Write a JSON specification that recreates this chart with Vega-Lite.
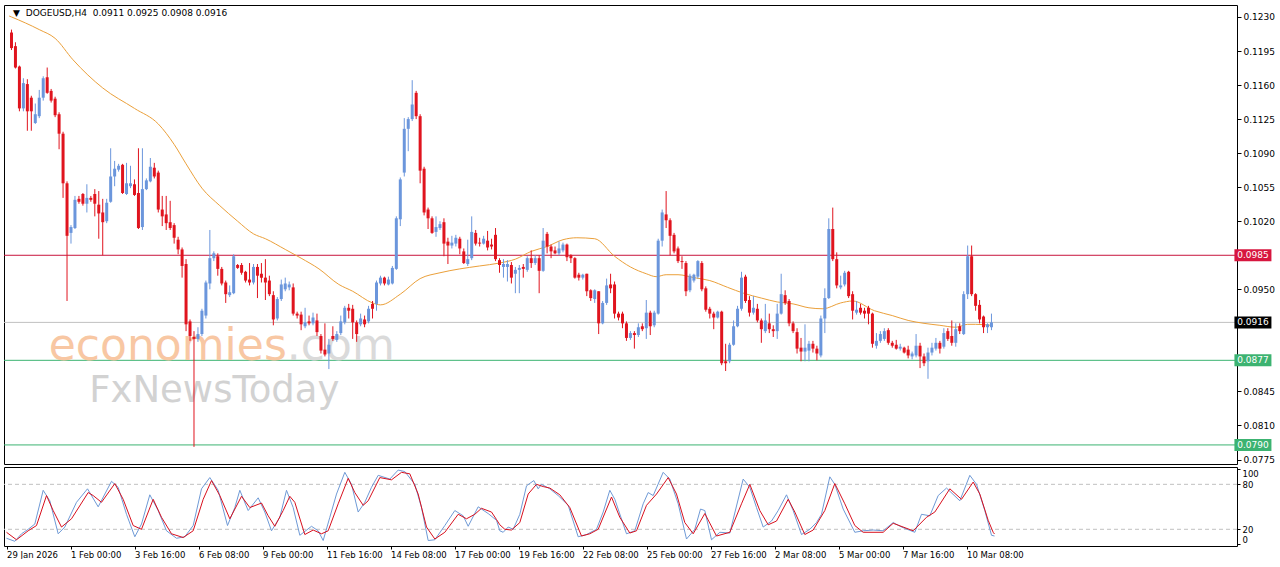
{
"$schema":"https://vega.github.io/schema/vega-lite/v6.json",
"padding":{"left":3,"top":4,"right":0,"bottom":0},
"background":"#ffffff",
"spacing":3,
"bounds":"flush",
"config":{"view":{"stroke":"#000000","strokeWidth":1},"font":"DejaVu Sans","axis":{"labelFont":"DejaVu Sans","labelColor":"#000000","tickColor":"#000000","grid":false,"domain":false,"title":null,"labelOverlap":false,"labelBound":false}},
"datasets":{
"candles":[
{"i":0,"o":0.1214,"h":0.1217,"l":0.1196,"c":0.1198},{"i":1,"o":0.1200,"h":0.1204,"l":0.1177,"c":0.1178},{"i":2,"o":0.1179,"h":0.1180,"l":0.1133,"c":0.1136},{"i":3,"o":0.1136,"h":0.1167,"l":0.1133,"c":0.1162},{"i":4,"o":0.1161,"h":0.1166,"l":0.1113,"c":0.1133},{"i":5,"o":0.1147,"h":0.1149,"l":0.1113,"c":0.1133},{"i":6,"o":0.1121,"h":0.1141,"l":0.1120,"c":0.1130},{"i":7,"o":0.1128,"h":0.1155,"l":0.1126,"c":0.1147},{"i":8,"o":0.1147,"h":0.1169,"l":0.1144,"c":0.1167},{"i":9,"o":0.1168,"h":0.1178,"l":0.1151,"c":0.1152},
{"i":10,"o":0.1154,"h":0.1156,"l":0.1142,"c":0.1144},{"i":11,"o":0.1146,"h":0.1148,"l":0.1127,"c":0.1129},{"i":12,"o":0.1130,"h":0.1132,"l":0.1094,"c":0.1110},{"i":13,"o":0.1110,"h":0.1112,"l":0.1044,"c":0.1059},{"i":14,"o":0.1059,"h":0.1061,"l":0.0938,"c":0.1005},{"i":15,"o":0.1008,"h":0.1016,"l":0.0997,"c":0.1014},{"i":16,"o":0.1013,"h":0.1046,"l":0.1012,"c":0.1042},{"i":17,"o":0.1043,"h":0.1046,"l":0.1038,"c":0.1040},{"i":18,"o":0.1048,"h":0.1049,"l":0.1036,"c":0.1038},{"i":19,"o":0.1038,"h":0.1058,"l":0.1029,"c":0.1044},
{"i":20,"o":0.1044,"h":0.1046,"l":0.1040,"c":0.1042},{"i":21,"o":0.1048,"h":0.1053,"l":0.1025,"c":0.1038},{"i":22,"o":0.1037,"h":0.1051,"l":0.1002,"c":0.1028},{"i":23,"o":0.1029,"h":0.1043,"l":0.0985,"c":0.1019},{"i":24,"o":0.1020,"h":0.1043,"l":0.1018,"c":0.1039},{"i":25,"o":0.1040,"h":0.1095,"l":0.1039,"c":0.1066},{"i":26,"o":0.1066,"h":0.1082,"l":0.1056,"c":0.1074},{"i":27,"o":0.1073,"h":0.1079,"l":0.1071,"c":0.1077},{"i":28,"o":0.1078,"h":0.1079,"l":0.1048,"c":0.1049},{"i":29,"o":0.1048,"h":0.1080,"l":0.1047,"c":0.1059},
{"i":30,"o":0.1056,"h":0.1077,"l":0.1054,"c":0.1059},{"i":31,"o":0.1058,"h":0.1063,"l":0.1046,"c":0.1047},{"i":32,"o":0.1049,"h":0.1095,"l":0.1012,"c":0.1013},{"i":33,"o":0.1014,"h":0.1095,"l":0.1011,"c":0.1053},{"i":34,"o":0.1053,"h":0.1064,"l":0.1052,"c":0.1062},{"i":35,"o":0.1061,"h":0.1085,"l":0.1060,"c":0.1076},{"i":36,"o":0.1075,"h":0.1080,"l":0.1064,"c":0.1066},{"i":37,"o":0.1070,"h":0.1072,"l":0.1029,"c":0.1032},{"i":38,"o":0.1032,"h":0.1046,"l":0.1015,"c":0.1025},{"i":39,"o":0.1027,"h":0.1046,"l":0.1011,"c":0.1018},
{"i":40,"o":0.1019,"h":0.1041,"l":0.1011,"c":0.1013},{"i":41,"o":0.1016,"h":0.1018,"l":0.0997,"c":0.1003},{"i":42,"o":0.1001,"h":0.1004,"l":0.0986,"c":0.0991},{"i":43,"o":0.0991,"h":0.0993,"l":0.0962,"c":0.0974},{"i":44,"o":0.0976,"h":0.0981,"l":0.0907,"c":0.0914},{"i":45,"o":0.0917,"h":0.0919,"l":0.0897,"c":0.0902},{"i":46,"o":0.0901,"h":0.0907,"l":0.0788,"c":0.0899},{"i":47,"o":0.0899,"h":0.0911,"l":0.0896,"c":0.0904},{"i":48,"o":0.0904,"h":0.0930,"l":0.0902,"c":0.0928},{"i":49,"o":0.0923,"h":0.0959,"l":0.0920,"c":0.0957},
{"i":50,"o":0.0956,"h":0.1011,"l":0.0950,"c":0.0982},{"i":51,"o":0.0982,"h":0.0989,"l":0.0979,"c":0.0987},{"i":52,"o":0.0984,"h":0.0987,"l":0.0964,"c":0.0971},{"i":53,"o":0.0971,"h":0.0973,"l":0.0954,"c":0.0956},{"i":54,"o":0.0957,"h":0.0959,"l":0.0936,"c":0.0945},{"i":55,"o":0.0944,"h":0.0954,"l":0.0942,"c":0.0947},{"i":56,"o":0.0946,"h":0.0986,"l":0.0945,"c":0.0984},{"i":57,"o":0.0975,"h":0.0976,"l":0.0971,"c":0.0972},{"i":58,"o":0.0975,"h":0.0977,"l":0.0965,"c":0.0967},{"i":59,"o":0.0968,"h":0.0969,"l":0.0957,"c":0.0959},
{"i":60,"o":0.0960,"h":0.0977,"l":0.0954,"c":0.0957},{"i":61,"o":0.0957,"h":0.0976,"l":0.0955,"c":0.0973},{"i":62,"o":0.0973,"h":0.0976,"l":0.0941,"c":0.0964},{"i":63,"o":0.0966,"h":0.0977,"l":0.0957,"c":0.0962},{"i":64,"o":0.0962,"h":0.0981,"l":0.0939,"c":0.0957},{"i":65,"o":0.0959,"h":0.0964,"l":0.0943,"c":0.0945},{"i":66,"o":0.0944,"h":0.0948,"l":0.0913,"c":0.0919},{"i":67,"o":0.0920,"h":0.0942,"l":0.0918,"c":0.0940},{"i":68,"o":0.0940,"h":0.0960,"l":0.0938,"c":0.0955},{"i":69,"o":0.0950,"h":0.0962,"l":0.0948,"c":0.0956},
{"i":70,"o":0.0952,"h":0.0958,"l":0.0949,"c":0.0955},{"i":71,"o":0.0952,"h":0.0956,"l":0.0923,"c":0.0925},{"i":72,"o":0.0925,"h":0.0927,"l":0.0920,"c":0.0923},{"i":73,"o":0.0924,"h":0.0927,"l":0.0908,"c":0.0914},{"i":74,"o":0.0912,"h":0.0931,"l":0.0910,"c":0.0916},{"i":75,"o":0.0917,"h":0.0923,"l":0.0913,"c":0.0915},{"i":76,"o":0.0915,"h":0.0926,"l":0.0913,"c":0.0921},{"i":77,"o":0.0918,"h":0.0925,"l":0.0902,"c":0.0906},{"i":78,"o":0.0902,"h":0.0904,"l":0.0884,"c":0.0887},{"i":79,"o":0.0888,"h":0.0915,"l":0.0881,"c":0.0883},
{"i":80,"o":0.0884,"h":0.0899,"l":0.0868,"c":0.0893},{"i":81,"o":0.0902,"h":0.0912,"l":0.0897,"c":0.0899},{"i":82,"o":0.0898,"h":0.0907,"l":0.0896,"c":0.0904},{"i":83,"o":0.0905,"h":0.0923,"l":0.0903,"c":0.0917},{"i":84,"o":0.0916,"h":0.0933,"l":0.0914,"c":0.0931},{"i":85,"o":0.0931,"h":0.0935,"l":0.0920,"c":0.0928},{"i":86,"o":0.0930,"h":0.0934,"l":0.0899,"c":0.0916},{"i":87,"o":0.0916,"h":0.0918,"l":0.0896,"c":0.0904},{"i":88,"o":0.0914,"h":0.0925,"l":0.0912,"c":0.0920},{"i":89,"o":0.0919,"h":0.0923,"l":0.0911,"c":0.0914},
{"i":90,"o":0.0917,"h":0.0933,"l":0.0915,"c":0.0930},{"i":91,"o":0.0935,"h":0.0938,"l":0.0920,"c":0.0930},{"i":92,"o":0.0935,"h":0.0959,"l":0.0928,"c":0.0957},{"i":93,"o":0.0956,"h":0.0964,"l":0.0954,"c":0.0962},{"i":94,"o":0.0962,"h":0.0963,"l":0.0954,"c":0.0956},{"i":95,"o":0.0955,"h":0.0963,"l":0.0954,"c":0.0960},{"i":96,"o":0.0956,"h":0.0974,"l":0.0955,"c":0.0972},{"i":97,"o":0.0971,"h":0.1025,"l":0.0970,"c":0.1023},{"i":98,"o":0.1022,"h":0.1065,"l":0.1015,"c":0.1063},{"i":99,"o":0.1070,"h":0.1126,"l":0.1066,"c":0.1115},
{"i":100,"o":0.1115,"h":0.1127,"l":0.1092,"c":0.1125},{"i":101,"o":0.1125,"h":0.1165,"l":0.1123,"c":0.1140},{"i":102,"o":0.1152,"h":0.1154,"l":0.1125,"c":0.1128},{"i":103,"o":0.1128,"h":0.1130,"l":0.1059,"c":0.1072},{"i":104,"o":0.1074,"h":0.1076,"l":0.1026,"c":0.1029},{"i":105,"o":0.1032,"h":0.1034,"l":0.1012,"c":0.1023},{"i":106,"o":0.1023,"h":0.1025,"l":0.1007,"c":0.1008},{"i":107,"o":0.1009,"h":0.1025,"l":0.1004,"c":0.1014},{"i":108,"o":0.1013,"h":0.1020,"l":0.1011,"c":0.1017},{"i":109,"o":0.1019,"h":0.1023,"l":0.0984,"c":0.0997},
{"i":110,"o":0.0999,"h":0.1003,"l":0.0976,"c":0.0995},{"i":111,"o":0.0995,"h":0.1005,"l":0.0992,"c":0.0998},{"i":112,"o":0.0997,"h":0.1006,"l":0.0994,"c":0.1003},{"i":113,"o":0.1002,"h":0.1004,"l":0.0986,"c":0.0992},{"i":114,"o":0.0989,"h":0.0992,"l":0.0976,"c":0.0977},{"i":115,"o":0.0976,"h":0.1001,"l":0.0974,"c":0.0981},{"i":116,"o":0.0982,"h":0.1025,"l":0.0980,"c":0.1009},{"i":117,"o":0.1008,"h":0.1011,"l":0.0995,"c":0.0997},{"i":118,"o":0.0998,"h":0.1003,"l":0.0994,"c":0.0997},{"i":119,"o":0.0997,"h":0.1005,"l":0.0996,"c":0.1002},
{"i":120,"o":0.1000,"h":0.1010,"l":0.0990,"c":0.0993},{"i":121,"o":0.0996,"h":0.1002,"l":0.0991,"c":0.0994},{"i":122,"o":0.1006,"h":0.1013,"l":0.0979,"c":0.0981},{"i":123,"o":0.0980,"h":0.0982,"l":0.0967,"c":0.0975},{"i":124,"o":0.0973,"h":0.0981,"l":0.0962,"c":0.0976},{"i":125,"o":0.0973,"h":0.0980,"l":0.0958,"c":0.0976},{"i":126,"o":0.0975,"h":0.0978,"l":0.0956,"c":0.0962},{"i":127,"o":0.0966,"h":0.0973,"l":0.0946,"c":0.0970},{"i":128,"o":0.0970,"h":0.0975,"l":0.0946,"c":0.0972},{"i":129,"o":0.0973,"h":0.0976,"l":0.0962,"c":0.0971},
{"i":130,"o":0.0970,"h":0.0984,"l":0.0968,"c":0.0982},{"i":131,"o":0.0982,"h":0.0990,"l":0.0972,"c":0.0977},{"i":132,"o":0.0977,"h":0.0985,"l":0.0975,"c":0.0982},{"i":133,"o":0.0982,"h":0.0985,"l":0.0946,"c":0.0969},{"i":134,"o":0.0969,"h":0.1013,"l":0.0968,"c":0.1000},{"i":135,"o":0.1007,"h":0.1009,"l":0.0987,"c":0.0994},{"i":136,"o":0.0994,"h":0.0996,"l":0.0982,"c":0.0989},{"i":137,"o":0.0990,"h":0.0994,"l":0.0986,"c":0.0987},{"i":138,"o":0.0987,"h":0.0999,"l":0.0985,"c":0.0992},{"i":139,"o":0.0990,"h":0.0998,"l":0.0988,"c":0.0996},
{"i":140,"o":0.0996,"h":0.0997,"l":0.0979,"c":0.0983},{"i":141,"o":0.0985,"h":0.0986,"l":0.0977,"c":0.0982},{"i":142,"o":0.0982,"h":0.0983,"l":0.0961,"c":0.0962},{"i":143,"o":0.0965,"h":0.0967,"l":0.0959,"c":0.0962},{"i":144,"o":0.0962,"h":0.0966,"l":0.0960,"c":0.0965},{"i":145,"o":0.0966,"h":0.0966,"l":0.0943,"c":0.0948},{"i":146,"o":0.0949,"h":0.0950,"l":0.0938,"c":0.0941},{"i":147,"o":0.0940,"h":0.0950,"l":0.0936,"c":0.0949},{"i":148,"o":0.0948,"h":0.0948,"l":0.0904,"c":0.0915},{"i":149,"o":0.0915,"h":0.0938,"l":0.0914,"c":0.0936},
{"i":150,"o":0.0936,"h":0.0961,"l":0.0934,"c":0.0954},{"i":151,"o":0.0955,"h":0.0966,"l":0.0946,"c":0.0951},{"i":152,"o":0.0955,"h":0.0958,"l":0.0920,"c":0.0925},{"i":153,"o":0.0925,"h":0.0927,"l":0.0918,"c":0.0921},{"i":154,"o":0.0925,"h":0.0927,"l":0.0910,"c":0.0915},{"i":155,"o":0.0915,"h":0.0917,"l":0.0897,"c":0.0900},{"i":156,"o":0.0900,"h":0.0907,"l":0.0898,"c":0.0905},{"i":157,"o":0.0905,"h":0.0907,"l":0.0889,"c":0.0903},{"i":158,"o":0.0903,"h":0.0915,"l":0.0901,"c":0.0911},{"i":159,"o":0.0912,"h":0.0915,"l":0.0907,"c":0.0909},
{"i":160,"o":0.0910,"h":0.0939,"l":0.0899,"c":0.0926},{"i":161,"o":0.0926,"h":0.0928,"l":0.0903,"c":0.0912},{"i":162,"o":0.0913,"h":0.0928,"l":0.0911,"c":0.0926},{"i":163,"o":0.0925,"h":0.1002,"l":0.0924,"c":0.1000},{"i":164,"o":0.1000,"h":0.1032,"l":0.0994,"c":0.1029},{"i":165,"o":0.1027,"h":0.1051,"l":0.1013,"c":0.1021},{"i":166,"o":0.1021,"h":0.1023,"l":0.0985,"c":0.1005},{"i":167,"o":0.1006,"h":0.1008,"l":0.0987,"c":0.0989},{"i":168,"o":0.0992,"h":0.0994,"l":0.0977,"c":0.0979},{"i":169,"o":0.0979,"h":0.0984,"l":0.0971,"c":0.0978},
{"i":170,"o":0.0977,"h":0.0979,"l":0.0943,"c":0.0948},{"i":171,"o":0.0949,"h":0.0966,"l":0.0947,"c":0.0964},{"i":172,"o":0.0959,"h":0.0966,"l":0.0957,"c":0.0965},{"i":173,"o":0.0963,"h":0.0980,"l":0.0961,"c":0.0979},{"i":174,"o":0.0977,"h":0.0979,"l":0.0948,"c":0.0950},{"i":175,"o":0.0951,"h":0.0953,"l":0.0927,"c":0.0929},{"i":176,"o":0.0930,"h":0.0932,"l":0.0920,"c":0.0925},{"i":177,"o":0.0925,"h":0.0927,"l":0.0909,"c":0.0921},{"i":178,"o":0.0921,"h":0.0928,"l":0.0920,"c":0.0927},{"i":179,"o":0.0927,"h":0.0928,"l":0.0872,"c":0.0874},
{"i":180,"o":0.0876,"h":0.0894,"l":0.0866,"c":0.0874},{"i":181,"o":0.0876,"h":0.0895,"l":0.0874,"c":0.0893},{"i":182,"o":0.0893,"h":0.0918,"l":0.0892,"c":0.0912},{"i":183,"o":0.0912,"h":0.0933,"l":0.0911,"c":0.0930},{"i":184,"o":0.0930,"h":0.0968,"l":0.0928,"c":0.0962},{"i":185,"o":0.0963,"h":0.0965,"l":0.0936,"c":0.0938},{"i":186,"o":0.0939,"h":0.0943,"l":0.0922,"c":0.0926},{"i":187,"o":0.0926,"h":0.0943,"l":0.0924,"c":0.0931},{"i":188,"o":0.0930,"h":0.0935,"l":0.0916,"c":0.0918},{"i":189,"o":0.0918,"h":0.0920,"l":0.0895,"c":0.0909},
{"i":190,"o":0.0907,"h":0.0935,"l":0.0905,"c":0.0918},{"i":191,"o":0.0915,"h":0.0925,"l":0.0905,"c":0.0909},{"i":192,"o":0.0909,"h":0.0913,"l":0.0901,"c":0.0907},{"i":193,"o":0.0907,"h":0.0935,"l":0.0899,"c":0.0925},{"i":194,"o":0.0925,"h":0.0966,"l":0.0924,"c":0.0945},{"i":195,"o":0.0944,"h":0.0949,"l":0.0934,"c":0.0936},{"i":196,"o":0.0938,"h":0.0940,"l":0.0912,"c":0.0915},{"i":197,"o":0.0915,"h":0.0917,"l":0.0905,"c":0.0907},{"i":198,"o":0.0906,"h":0.0910,"l":0.0884,"c":0.0889},{"i":199,"o":0.0890,"h":0.0900,"l":0.0876,"c":0.0886},
{"i":200,"o":0.0886,"h":0.0914,"l":0.0876,"c":0.0890},{"i":201,"o":0.0887,"h":0.0897,"l":0.0876,"c":0.0894},{"i":202,"o":0.0894,"h":0.0897,"l":0.0885,"c":0.0889},{"i":203,"o":0.0889,"h":0.0892,"l":0.0877,"c":0.0884},{"i":204,"o":0.0882,"h":0.0923,"l":0.0880,"c":0.0920},{"i":205,"o":0.0920,"h":0.0951,"l":0.0905,"c":0.0941},{"i":206,"o":0.0941,"h":0.1023,"l":0.0940,"c":0.1012},{"i":207,"o":0.1012,"h":0.1034,"l":0.0979,"c":0.0981},{"i":208,"o":0.0981,"h":0.0988,"l":0.0951,"c":0.0954},{"i":209,"o":0.0952,"h":0.0964,"l":0.0950,"c":0.0954},
{"i":210,"o":0.0955,"h":0.0969,"l":0.0953,"c":0.0967},{"i":211,"o":0.0968,"h":0.0969,"l":0.0941,"c":0.0943},{"i":212,"o":0.0945,"h":0.0948,"l":0.0919,"c":0.0928},{"i":213,"o":0.0926,"h":0.0938,"l":0.0924,"c":0.0929},{"i":214,"o":0.0931,"h":0.0935,"l":0.0924,"c":0.0926},{"i":215,"o":0.0928,"h":0.0931,"l":0.0920,"c":0.0925},{"i":216,"o":0.0931,"h":0.0933,"l":0.0914,"c":0.0925},{"i":217,"o":0.0925,"h":0.0926,"l":0.0890,"c":0.0894},{"i":218,"o":0.0892,"h":0.0905,"l":0.0889,"c":0.0897},{"i":219,"o":0.0897,"h":0.0907,"l":0.0895,"c":0.0904},
{"i":220,"o":0.0899,"h":0.0910,"l":0.0897,"c":0.0907},{"i":221,"o":0.0908,"h":0.0910,"l":0.0893,"c":0.0895},{"i":222,"o":0.0895,"h":0.0897,"l":0.0890,"c":0.0892},{"i":223,"o":0.0893,"h":0.0898,"l":0.0888,"c":0.0889},{"i":224,"o":0.0889,"h":0.0894,"l":0.0887,"c":0.0891},{"i":225,"o":0.0890,"h":0.0891,"l":0.0884,"c":0.0885},{"i":226,"o":0.0888,"h":0.0892,"l":0.0879,"c":0.0882},{"i":227,"o":0.0881,"h":0.0886,"l":0.0878,"c":0.0884},{"i":228,"o":0.0882,"h":0.0904,"l":0.0880,"c":0.0892},{"i":229,"o":0.0892,"h":0.0895,"l":0.0869,"c":0.0881},
{"i":230,"o":0.0881,"h":0.0884,"l":0.0871,"c":0.0874},{"i":231,"o":0.0876,"h":0.0890,"l":0.0858,"c":0.0885},{"i":232,"o":0.0885,"h":0.0895,"l":0.0882,"c":0.0890},{"i":233,"o":0.0889,"h":0.0900,"l":0.0887,"c":0.0895},{"i":234,"o":0.0895,"h":0.0897,"l":0.0884,"c":0.0889},{"i":235,"o":0.0891,"h":0.0910,"l":0.0889,"c":0.0905},{"i":236,"o":0.0907,"h":0.0910,"l":0.0897,"c":0.0899},{"i":237,"o":0.0902,"h":0.0918,"l":0.0892,"c":0.0895},{"i":238,"o":0.0895,"h":0.0915,"l":0.0891,"c":0.0909},{"i":239,"o":0.0912,"h":0.0915,"l":0.0904,"c":0.0907},
{"i":240,"o":0.0904,"h":0.0948,"l":0.0903,"c":0.0945},{"i":241,"o":0.0945,"h":0.0995,"l":0.0940,"c":0.0984},{"i":242,"o":0.0984,"h":0.0995,"l":0.0943,"c":0.0945},{"i":243,"o":0.0945,"h":0.0946,"l":0.0928,"c":0.0933},{"i":244,"o":0.0934,"h":0.0939,"l":0.0915,"c":0.0919},{"i":245,"o":0.0922,"h":0.0923,"l":0.0905,"c":0.0911},{"i":246,"o":0.0911,"h":0.0915,"l":0.0905,"c":0.0914},{"i":247,"o":0.0911,"h":0.0925,"l":0.0908,"c":0.0916}
],
"ma":[
{"i":-0.6,"p":0.1231},{"i":0,"p":0.1230},{"i":7,"p":0.1217},{"i":11,"p":0.1208},{"i":15.5,"p":0.1186},{"i":23,"p":0.1157},{"i":31,"p":0.1136},{"i":37,"p":0.1120},{"i":41,"p":0.1099},{"i":44,"p":0.1079},{"i":48,"p":0.1054},{"i":52.5,"p":0.1036},{"i":57,"p":0.1020},{"i":61,"p":0.1007},{"i":64,"p":0.1002},{"i":69,"p":0.0991},{"i":73,"p":0.0982},{"i":77.5,"p":0.0971},{"i":82.5,"p":0.0955},{"i":86,"p":0.0948},{"i":91,"p":0.0936},{"i":93,"p":0.0934},{"i":98,"p":0.0945},{"i":103,"p":0.0961},{"i":108,"p":0.0967},{"i":113,"p":0.0971},{"i":118,"p":0.0974},{"i":123,"p":0.0977},{"i":127,"p":0.0981},{"i":131,"p":0.0989},{"i":135,"p":0.0994},{"i":139,"p":0.1001},{"i":142.5,"p":0.1003},{"i":147,"p":0.1002},{"i":152,"p":0.0984},{"i":156,"p":0.0973},{"i":160,"p":0.0966},{"i":162.5,"p":0.0963},{"i":165,"p":0.0965},{"i":168,"p":0.0965},{"i":172,"p":0.0962},{"i":176,"p":0.0959},{"i":180.5,"p":0.0952},{"i":184.5,"p":0.0946},{"i":189,"p":0.0941},{"i":193,"p":0.0937},{"i":197,"p":0.0935},{"i":201,"p":0.0931},{"i":204.5,"p":0.0930},{"i":209,"p":0.0936},{"i":212,"p":0.0938},{"i":217.5,"p":0.0928},{"i":222,"p":0.0923},{"i":226,"p":0.0918},{"i":230,"p":0.0915},{"i":234,"p":0.0913},{"i":238,"p":0.0911},{"i":241,"p":0.0914},{"i":243,"p":0.0914},{"i":247,"p":0.0913}
],
"k":[
{"i":0,"v":8},{"i":2.08,"v":4},{"i":3.75,"v":14},{"i":5.42,"v":20},{"i":7.08,"v":27},{"i":9.17,"v":72},{"i":10.83,"v":58},{"i":12.92,"v":14},{"i":14.58,"v":23},{"i":17.5,"v":56},{"i":20.25,"v":74},{"i":22.92,"v":50},{"i":26.25,"v":84},{"i":27.92,"v":76},{"i":30,"v":40},{"i":32.08,"v":10},{"i":33.75,"v":27},{"i":35.83,"v":66},{"i":37.92,"v":45},{"i":40,"v":18},{"i":42.5,"v":8},{"i":44.58,"v":10},{"i":46.67,"v":25},{"i":48.75,"v":74},{"i":50.83,"v":89},{"i":52.92,"v":72},{"i":55.25,"v":25},{"i":57.08,"v":49},{"i":58.33,"v":72},{"i":60.42,"v":45},{"i":62.92,"v":62},{"i":64.58,"v":43},{"i":66.25,"v":18},{"i":68.33,"v":36},{"i":70,"v":72},{"i":71.67,"v":49},{"i":73.33,"v":12},{"i":76.25,"v":24},{"i":77.92,"v":18},{"i":79.17,"v":5},{"i":80.83,"v":36},{"i":82.5,"v":67},{"i":84.58,"v":96},{"i":86.25,"v":80},{"i":87.92,"v":43},{"i":89.58,"v":56},{"i":91.25,"v":76},{"i":92.92,"v":92},{"i":95.83,"v":87},{"i":97.92,"v":99},{"i":99.58,"v":97},{"i":102.08,"v":80},{"i":103.75,"v":49},{"i":105.42,"v":5},{"i":107.08,"v":6},{"i":109.58,"v":25},{"i":112.08,"v":45},{"i":114.17,"v":38},{"i":115.42,"v":24},{"i":117.92,"v":50},{"i":120.42,"v":41},{"i":122.5,"v":32},{"i":123.33,"v":18},{"i":124.17,"v":16},{"i":125.42,"v":23},{"i":126.67,"v":20},{"i":128.33,"v":40},{"i":130,"v":78},{"i":131.83,"v":85},{"i":132.92,"v":74},{"i":133.75,"v":80},{"i":135.83,"v":74},{"i":137.92,"v":65},{"i":140.42,"v":52},{"i":142.92,"v":10},{"i":145,"v":13},{"i":147.5,"v":20},{"i":149.17,"v":43},{"i":150.83,"v":72},{"i":152.08,"v":60},{"i":155,"v":14},{"i":157.08,"v":18},{"i":159.17,"v":54},{"i":160.42,"v":69},{"i":161.67,"v":65},{"i":164.17,"v":96},{"i":165.83,"v":87},{"i":167.92,"v":54},{"i":170,"v":7},{"i":172.08,"v":20},{"i":173.5,"v":47},{"i":174.58,"v":45},{"i":176.25,"v":6},{"i":178.33,"v":16},{"i":180.83,"v":15},{"i":184.17,"v":87},{"i":185.83,"v":76},{"i":187.5,"v":49},{"i":189.17,"v":23},{"i":191.25,"v":31},{"i":192.92,"v":45},{"i":195,"v":66},{"i":196.67,"v":45},{"i":198.75,"v":13},{"i":200.83,"v":20},{"i":202.5,"v":29},{"i":203.75,"v":40},{"i":205.83,"v":90},{"i":207.08,"v":80},{"i":209.17,"v":47},{"i":212.08,"v":16},{"i":214.17,"v":18},{"i":216.67,"v":19},{"i":219.17,"v":18},{"i":221.67,"v":29},{"i":223.75,"v":23},{"i":227.08,"v":16},{"i":228.75,"v":40},{"i":230.83,"v":38},{"i":232.92,"v":65},{"i":235,"v":75},{"i":238.33,"v":58},{"i":240.83,"v":92},{"i":242.5,"v":80},{"i":244.58,"v":45},{"i":246.25,"v":12},{"i":247,"v":11.0}
],
"d":[
{"i":0,"v":16},{"i":2.5,"v":6},{"i":5.42,"v":18},{"i":7.5,"v":25},{"i":10,"v":65},{"i":11.67,"v":45},{"i":13.75,"v":23},{"i":16.25,"v":34},{"i":20.42,"v":69},{"i":21.67,"v":65},{"i":23.75,"v":56},{"i":27.08,"v":81},{"i":29.17,"v":60},{"i":31.67,"v":25},{"i":33.75,"v":20},{"i":36.67,"v":60},{"i":38.75,"v":36},{"i":41.25,"v":14},{"i":44.17,"v":9},{"i":46.67,"v":18},{"i":49.17,"v":60},{"i":51.25,"v":85},{"i":53.33,"v":65},{"i":55.83,"v":34},{"i":58.75,"v":64},{"i":60.83,"v":49},{"i":63.75,"v":55},{"i":65.42,"v":38},{"i":67.08,"v":24},{"i":69.17,"v":45},{"i":70.83,"v":64},{"i":72.08,"v":56},{"i":74.58,"v":13},{"i":76.67,"v":19},{"i":78.75,"v":14},{"i":80.42,"v":18},{"i":82.92,"v":54},{"i":85.42,"v":88},{"i":87.08,"v":69},{"i":89.17,"v":52},{"i":90.42,"v":58},{"i":93.33,"v":89},{"i":96.25,"v":86},{"i":98.75,"v":96},{"i":100.83,"v":94},{"i":102.92,"v":67},{"i":105,"v":23},{"i":107.08,"v":7},{"i":109.58,"v":16},{"i":112.92,"v":40},{"i":115,"v":34},{"i":117.08,"v":40},{"i":118.75,"v":48},{"i":121.25,"v":43},{"i":122.5,"v":33},{"i":123.33,"v":26},{"i":124.58,"v":20},{"i":126.25,"v":19},{"i":128.33,"v":29},{"i":130.42,"v":67},{"i":132.5,"v":80},{"i":134.17,"v":77},{"i":135.83,"v":75},{"i":138.33,"v":66},{"i":140.83,"v":49},{"i":143.75,"v":11},{"i":145.83,"v":14},{"i":147.92,"v":20},{"i":151.25,"v":63},{"i":153.33,"v":36},{"i":155.83,"v":15},{"i":157.5,"v":18},{"i":160,"v":52},{"i":162.5,"v":67},{"i":165.42,"v":89},{"i":167.5,"v":67},{"i":169.58,"v":29},{"i":171.67,"v":14},{"i":174.58,"v":41},{"i":177.5,"v":11},{"i":180.83,"v":16},{"i":183.75,"v":54},{"i":185.83,"v":80},{"i":188.33,"v":45},{"i":190.42,"v":26},{"i":192.5,"v":31},{"i":195.42,"v":60},{"i":197.08,"v":43},{"i":199.58,"v":13},{"i":201.67,"v":19},{"i":204.58,"v":45},{"i":207.08,"v":81},{"i":209.58,"v":54},{"i":212.08,"v":25},{"i":214.17,"v":16},{"i":219.17,"v":16},{"i":221.67,"v":28},{"i":226.67,"v":18},{"i":230,"v":36},{"i":232.08,"v":43},{"i":235.83,"v":74},{"i":238.75,"v":60},{"i":241.67,"v":83},{"i":243.33,"v":67},{"i":245.42,"v":32},{"i":246.67,"v":16},{"i":247,"v":13.7}
],
"levels":[{"p":0.0985,"kind":"resistance"},{"p":0.0916,"kind":"bid"},{"p":0.0877,"kind":"support"},{"p":0.0790,"kind":"support"}],
"stoLevels":[{"v":20},{"v":80}]
},
"vconcat":[
{
"width":1233,"height":459,
"layer":[
{"data":{"name":"levels"},"mark":{"type":"rule","strokeWidth":1},"encoding":{"y":{"field":"p","type":"quantitative","scale":{"domain":[0.07704,0.12423],"nice":false,"zero":false},"axis":{"orient":"right","values":[0.1230,0.1195,0.1160,0.1125,0.1090,0.1055,0.1020,0.0950,0.0845,0.0810,0.0775],"format":".4f","tickSize":4,"labelPadding":2,"labelFontSize":9}},"color":{"field":"kind","type":"nominal","scale":{"domain":["resistance","bid","support"],"range":["#C8143C","#C0C0C0","#3CB371"]},"legend":null}}},
{"data":{"values":[{}]},"mark":{"type":"text","text":"economies","align":"right","baseline":"alphabetic","fontSize":44,"font":"DejaVu Sans","color":"#F8C7A3"},"encoding":{"x":{"datum":69.4,"type":"quantitative"},"y":{"datum":0.0877,"type":"quantitative"}}},
{"data":{"values":[{}]},"mark":{"type":"text","text":".com","align":"left","baseline":"alphabetic","fontSize":44,"font":"DejaVu Sans","color":"#DADADA"},"encoding":{"x":{"datum":69.4,"type":"quantitative"},"y":{"datum":0.0877,"type":"quantitative"}}},
{"data":{"values":[{}]},"mark":{"type":"text","text":"FxNewsToday","align":"left","baseline":"alphabetic","fontSize":37,"font":"DejaVu Sans","color":"#D2D2D2"},"encoding":{"x":{"datum":19.6,"type":"quantitative"},"y":{"datum":0.0834,"type":"quantitative"}}},
{"data":{"name":"ma"},"mark":{"type":"line","color":"#EBA03A","strokeWidth":1,"interpolate":"monotone"},"encoding":{"x":{"field":"i","type":"quantitative","scale":{"domain":[-0.625,307.625],"nice":false,"zero":false},"axis":null},"y":{"field":"p","type":"quantitative"}}},
{"data":{"name":"candles"},"mark":{"type":"rule","strokeWidth":1},"encoding":{"x":{"field":"i","type":"quantitative"},"y":{"field":"l","type":"quantitative"},"y2":{"field":"h"},"color":{"condition":{"test":"datum.c >= datum.o","value":"#6B96DC"},"value":"#E0141E"}}},
{"data":{"name":"candles"},"mark":{"type":"bar","width":3,"orient":"vertical"},"encoding":{"x":{"field":"i","type":"quantitative"},"y":{"field":"o","type":"quantitative"},"y2":{"field":"c"},"color":{"condition":{"test":"datum.c >= datum.o","value":"#6B96DC"},"value":"#E0141E"}}},
{"data":{"values":[{}]},"mark":{"type":"text","text":"\u25bc\u00a0\u00a0DOGEUSD,H4\u00a0\u00a00.0911 0.0925 0.0908 0.0916","align":"left","baseline":"middle","fontSize":9,"color":"#000000"},"encoding":{"x":{"datum":0.4,"type":"quantitative"},"y":{"datum":0.1234,"type":"quantitative"}}},
{"data":{"name":"levels"},"mark":{"type":"rect","width":37,"height":12},"encoding":{"x":{"datum":312.9,"type":"quantitative"},"y":{"field":"p","type":"quantitative"},"color":{"field":"kind","type":"nominal","scale":{"domain":["resistance","bid","support"],"range":["#D7163F","#000000","#3CB371"]},"legend":null}}},
{"data":{"name":"levels"},"mark":{"type":"text","align":"center","baseline":"middle","fontSize":9,"color":"#ffffff"},"encoding":{"x":{"datum":312.9,"type":"quantitative"},"y":{"field":"p","type":"quantitative"},"text":{"field":"p","type":"quantitative","format":".4f"}}}
],
"resolve":{"scale":{"color":"independent"}}
},
{
"width":1233,"height":79,
"encoding":{
"y":{"field":"v","type":"quantitative","scale":{"domain":[-2.3,103.1],"nice":false,"zero":false},"axis":{"orient":"right","values":[0,20,80,100],"tickSize":3,"labelPadding":2,"labelFontSize":8.5,"labelOverlap":false,"labelBaseline":{"condition":{"test":"datum.value == 100","value":"top"},"value":"middle"},"labelOffset":{"condition":{"test":"datum.value == 0","value":-5},"value":0}}}
},
"layer":[
{"data":{"name":"stoLevels"},"mark":{"type":"rule","color":"#C0C0C0","strokeDash":[4,3],"strokeWidth":1}},
{"data":{"name":"k"},"mark":{"type":"line","color":"#6F9AD6","strokeWidth":1},"encoding":{"x":{"field":"i","type":"quantitative","scale":{"domain":[-0.625,307.625],"nice":false,"zero":false},"axis":{"orient":"bottom","values":[0,16,32,48,64,80,96,112,128,144,160,176,192,208,224,240],"labelExpr":"['29 Jan 2026','1 Feb 00:00','3 Feb 16:00','6 Feb 08:00','9 Feb 00:00','11 Feb 16:00','14 Feb 08:00','17 Feb 00:00','19 Feb 16:00','22 Feb 08:00','25 Feb 00:00','27 Feb 16:00','2 Mar 08:00','5 Mar 00:00','7 Mar 16:00','10 Mar 08:00'][round(datum.value/16)]","labelAlign":"left","labelFlush":false,"labelOverlap":false,"tickSize":3,"labelPadding":1,"labelFontSize":8.5}}}},
{"data":{"name":"d"},"mark":{"type":"line","color":"#D8101E","strokeWidth":1},"encoding":{"x":{"field":"i","type":"quantitative"}}},
{"data":{"values":[{}]},"mark":{"type":"text","text":"Sto(5,3,3) 11.0092 13.6844","align":"left","baseline":"middle","fontSize":9,"color":"#000000"},"encoding":{"x":{"datum":0.875,"type":"quantitative"},"y":{"datum":91,"type":"quantitative"}}}
]
}
]
}
